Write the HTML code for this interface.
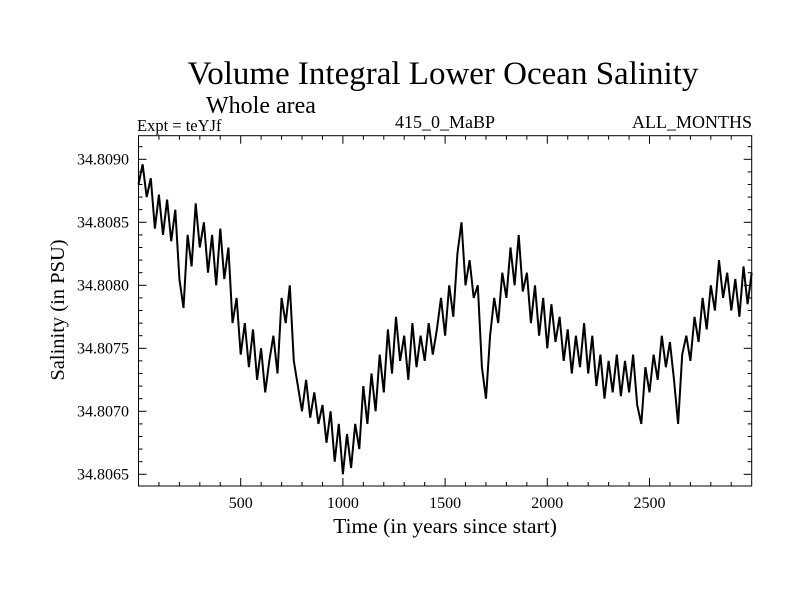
<!DOCTYPE html>
<html><head><meta charset="utf-8"><style>
html,body{margin:0;padding:0;background:#fff;}
svg{display:block;font-family:"Liberation Serif",serif;}
</style></head><body>
<svg id="chart" width="800" height="600" viewBox="0 0 800 600">
<text x="443" y="84" font-size="33" text-anchor="middle">Volume Integral Lower Ocean Salinity</text>
<text x="206" y="113" font-size="24">Whole area</text>
<text x="137" y="131" font-size="16.5">Expt = teYJf</text>
<text x="445" y="128" font-size="18" text-anchor="middle">415_0_MaBP</text>
<text x="752" y="128" font-size="18" text-anchor="end">ALL_MONTHS</text>
<text x="445" y="533" font-size="21.5" text-anchor="middle">Time (in years since start)</text>
<text transform="translate(64,310) rotate(-90)" font-size="20.5" text-anchor="middle">Salinity (in PSU)</text>
<g id="axes"></g>
<g id="series"></g>
</svg>
<script>
const xTicks = [500, 1000, 1500, 2000, 2500];
const yTicks = [34.8065, 34.8070, 34.8075, 34.8080, 34.8085, 34.8090];
const yTickLabels = ["34.8065","34.8070","34.8075","34.8080","34.8085","34.8090"];
const yearStep = 20;
const salinityE5 = [880,896,870,885,845,872,840,868,835,860,805,782,840,815,865,830,850,810,840,800,845,805,830,770,790,745,770,735,765,725,750,715,740,760,730,790,770,800,740,720,700,725,695,715,690,705,675,700,660,690,650,682,655,690,670,720,690,730,700,745,715,765,730,775,740,760,725,770,735,760,740,770,745,765,790,760,800,775,825,850,800,820,790,800,735,710,760,790,770,810,790,830,800,840,795,810,770,800,760,790,750,785,755,775,740,765,730,760,735,770,730,760,720,745,710,740,715,745,712,740,715,745,705,690,735,715,745,725,760,735,755,725,690,745,760,740,775,755,790,765,800,780,820,790,810,780,805,775,815,785,810];
const years = salinityE5.map((_, i) => i * yearStep);

const L = 138.5, R = 751.7, T = 135.7, B = 486;
const xMin = 0, xMax = 3000;
const xs = t => L + (t - xMin) / (xMax - xMin) * (R - L);
const ys = v => 474.3 - (v - 34.8065) / 0.0005 * 63;
const NS = "http://www.w3.org/2000/svg";
function mk(tag, attrs, parent) {
  const e = document.createElementNS(NS, tag);
  for (const k in attrs) e.setAttribute(k, attrs[k]);
  parent.appendChild(e);
  return e;
}
const axes = document.getElementById('axes');
const frame = mk('rect', {x: L, y: T, width: R - L, height: B - T, fill: 'none', stroke: '#000', 'stroke-width': 1}, axes);


for (let t = 100; t < 3000; t += 100) {
  const major = t % 500 === 0;
  const len = major ? 8 : 4;
  const x = xs(t);
  const tb = mk('line', {x1: x, x2: x, y1: B, y2: B - len, stroke: '#000'}, axes);
  
  
  const tt = mk('line', {x1: x, x2: x, y1: T, y2: T + len, stroke: '#000'}, axes);
  
  
}
xTicks.forEach(t => {
  const lab = mk('text', {x: xs(t), y: 508, 'font-size': 16, 'text-anchor': 'middle'}, axes);
  lab.textContent = t;
  
  
});
for (let k = -1; k <= 26; k++) {
  const v = 34.8065 + k * 0.0001;
  const y = ys(v);
  if (y < T + 1 || y > B - 1) continue;
  const major = ((k % 5) + 5) % 5 === 0;
  const len = major ? 8 : 4;
  const tl = mk('line', {x1: L, x2: L + len, y1: y, y2: y, stroke: '#000'}, axes);
  
  
  const tr = mk('line', {x1: R, x2: R - len, y1: y, y2: y, stroke: '#000'}, axes);
  
  
}
yTicks.forEach((v, i) => {
  const lab = mk('text', {x: 129, y: ys(v) + 5, 'font-size': 16, 'text-anchor': 'end'}, axes);
  lab.textContent = yTickLabels[i];
  
  
});
const d = salinityE5.map((n, i) => (i ? 'L' : 'M') + xs(years[i]).toFixed(1) + ',' + ys(34.8 + n * 1e-5).toFixed(1)).join('');
const line = mk('path', {d: d, fill: 'none', stroke: '#000', 'stroke-width': 2, 'stroke-linejoin': 'miter'}, document.getElementById('series'));


</script>
</body></html>
